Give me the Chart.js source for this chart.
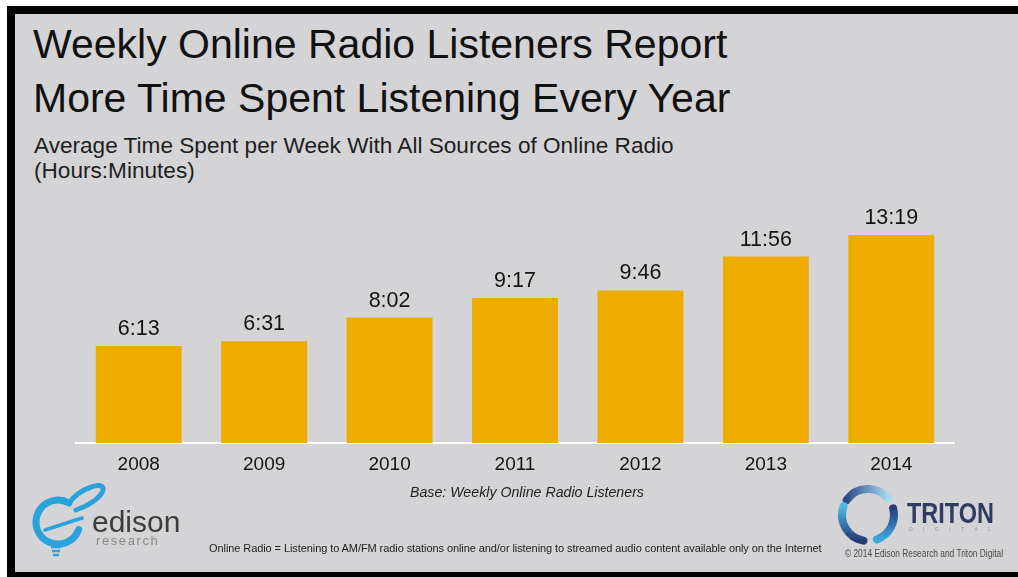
<!DOCTYPE html>
<html>
<head>
<meta charset="utf-8">
<script src="https://cdn.jsdelivr.net/npm/chart.js@4"></script>
<style>
  html, body { margin: 0; padding: 0; background: #fff; }
  #slide {
    position: relative; width: 1018px; height: 577px; overflow: hidden;
    background: #d4d4d6; font-family: "Liberation Sans", Arial, sans-serif; color: #141414;
  }
  #slide .frameTop { position: absolute; left: 0; top: 0; width: 1018px; height: 6px; background: #fff; }
  #slide .frameLeft { position: absolute; left: 0; top: 0; width: 7px; height: 577px; background: #fff; }
  #slide .barTop { position: absolute; left: 7px; top: 6px; width: 1011px; height: 8px; background: #000; }
  #slide .barLeft { position: absolute; left: 7px; top: 6px; width: 8px; height: 571px; background: #000; }
  #slide .barBottom { position: absolute; left: 7px; top: 572px; width: 1011px; height: 5px; background: #000; }
  .title { position: absolute; left: 33px; top: 17px; font-size: 41px; line-height: 54px; white-space: nowrap; color: #111; }
  .subtitle { position: absolute; left: 34px; top: 133px; font-size: 22.6px; line-height: 25px; color: #1e1e1e; white-space: nowrap; }
  .base { position: absolute; left: 0; width: 1054px; top: 484px; text-align: center; font-style: italic; font-size: 14.2px; color: #1e1e1e; }
  .note { position: absolute; left: 209px; top: 542px; font-size: 11px; letter-spacing: -0.08px; color: #1e1e1e; white-space: nowrap; }
  #chartBox { position: absolute; left: 0; top: 0; width: 1018px; height: 577px; }
  .logo { position: absolute; }
</style>
</head>
<body>
<div id="slide">
  <div class="frameTop"></div><div class="frameLeft"></div>
  <div class="barTop"></div><div class="barLeft"></div><div class="barBottom"></div>

  <div class="title">Weekly Online Radio Listeners Report<br>More Time Spent Listening Every Year</div>
  <div class="subtitle">Average Time Spent per Week With All Sources of Online Radio<br>(Hours:Minutes)</div>

  <div id="chartBox"><canvas id="myChart" width="1018" height="577"></canvas></div>

  <div class="base">Base: Weekly Online Radio Listeners</div>
  <div class="note">Online Radio = Listening to AM/FM radio stations online and/or listening to streamed audio content available only on the Internet</div>

  <!-- edison research logo -->
  <svg class="logo" style="left:30px;top:478px" width="160" height="80" viewBox="0 0 160 80">
    <path d="M48.7 51.5 A 22 22 0 1 1 39 25" fill="none" stroke="#2ba2dc" stroke-width="7" stroke-linecap="round"/>
    <path d="M39 25 C 50 10, 75 2, 73 12 C 71 20, 58 28, 46 32" fill="none" stroke="#2ba2dc" stroke-width="5" stroke-linecap="round"/>
    <path d="M15 52 L 52 40" stroke="#2ba2dc" stroke-width="3.5" stroke-linecap="round"/>
    <path d="M21 69 l10 0 M22 73 l8 0 M23 77 l6 0" stroke="#2ba2dc" stroke-width="2.5"/>
    <text x="62" y="54" font-family="Liberation Sans, Arial" font-size="30" fill="#3c3c3c">edison</text>
    <text x="66" y="67" font-family="Liberation Sans, Arial" font-size="13" letter-spacing="1.6" fill="#8a8a8a">research</text>
  </svg>

  <!-- triton digital logo -->
  <svg class="logo" style="left:835px;top:483px" width="180" height="85" viewBox="0 0 180 85">
    <defs>
      <linearGradient id="g1" x1="0" x2="1"><stop offset="0" stop-color="#2f4a8a"/><stop offset="1" stop-color="#a5dbf2"/></linearGradient>
      <linearGradient id="g2" x1="0" x2="0" y1="0" y2="1"><stop offset="0" stop-color="#4fb8e8"/><stop offset="1" stop-color="#263c75"/></linearGradient>
      <linearGradient id="g3" x1="0" x2="0" y1="0" y2="1"><stop offset="0" stop-color="#263c75"/><stop offset="1" stop-color="#3ea9e0"/></linearGradient>
    </defs>
    <path d="M11.7 17.1 A 26 26 0 0 1 52.9 15.3" fill="none" stroke="url(#g1)" stroke-width="8" stroke-linecap="round"/>
    <path d="M8.6 23.1 A 26 26 0 0 0 28.5 57.6" fill="none" stroke="url(#g2)" stroke-width="8" stroke-linecap="round"/>
    <path d="M58.1 25.3 A 26 26 0 0 1 41.9 56.4" fill="none" stroke="url(#g3)" stroke-width="8" stroke-linecap="round"/>
    <text x="72" y="40" font-family="Liberation Sans, Arial" font-weight="bold" font-size="29" fill="#2f3b60"
          textLength="87" lengthAdjust="spacingAndGlyphs">TRITON</text>
    <text x="74" y="48" font-family="Liberation Sans, Arial" font-size="5" fill="#8a93ad"
          textLength="82" lengthAdjust="spacing">DIGITAL</text>
    <text x="10" y="74" font-family="Liberation Sans, Arial" font-size="10" fill="#4a4a4a"
          textLength="158" lengthAdjust="spacingAndGlyphs">© 2014 Edison Research and Triton Digital</text>
  </svg>
</div>

<script>
// weekly listening time per year (hours:minutes)
var years = ['2008', '2009', '2010', '2011', '2012', '2013', '2014'];
var listenTime = ['6:13', '6:31', '8:02', '9:17', '9:46', '11:56', '13:19'];

function toHours(t) {
    var p = t.split(':');
    return parseInt(p[0], 10) + parseInt(p[1], 10) / 60;
}
var hours = listenTime.map(toHours);

// write the h:mm text above every bar
var valueLabels = {
    id: 'valueLabels',
    afterDatasetsDraw: function (chart) {
        var ctx = chart.ctx;
        var meta = chart.getDatasetMeta(0);
        ctx.save();
        ctx.font = '21.5px "Liberation Sans", Arial, sans-serif';
        ctx.fillStyle = '#141414';
        ctx.textAlign = 'center';
        ctx.textBaseline = 'alphabetic';
        meta.data.forEach(function (bar, i) {
            ctx.fillText(listenTime[i], bar.x, bar.y - 11);
        });
        ctx.restore();
    }
};

var canvas = document.getElementById('myChart');
var myChart = new Chart(canvas, {
    type: 'bar',
    data: {
        labels: years,
        datasets: [{
            data: hours,
            backgroundColor: '#efac00',
            borderWidth: 0,
            barPercentage: 0.685,
            categoryPercentage: 1
        }]
    },
    options: {
        responsive: false,
        animation: false,
        layout: { padding: { left: 76, right: 64, top: 193, bottom: 99 } },
        plugins: { legend: { display: false }, tooltip: { enabled: false } },
        scales: {
            x: {
                grid: { display: false },
                border: { color: '#ffffff', width: 2 },
                ticks: {
                    color: '#141414',
                    padding: 2,
                    font: { family: '"Liberation Sans", Arial, sans-serif', size: 19 }
                }
            },
            y: { display: false, min: 0, max: 16 }
        }
    },
    plugins: [valueLabels]
});
</script>
</body>
</html>
